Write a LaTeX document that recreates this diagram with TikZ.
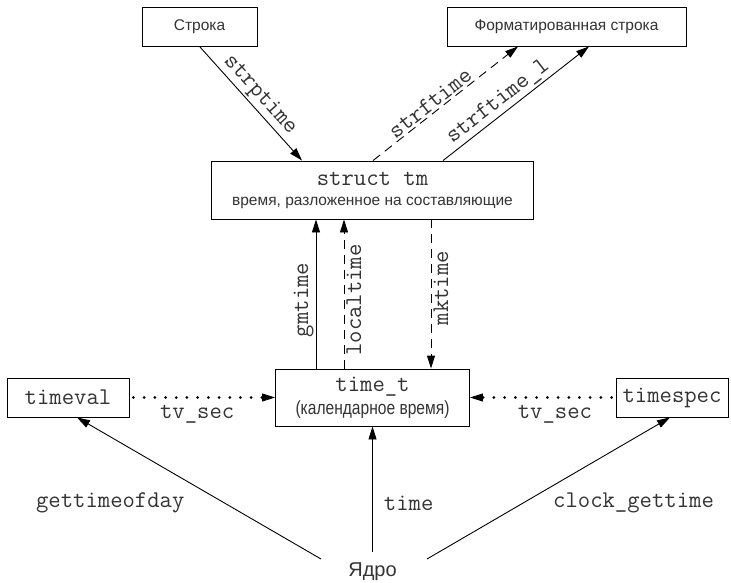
\documentclass[tikz,border=0pt]{standalone}
\usepackage{fontspec}
\setmainfont{Liberation Sans}
\newfontfamily\narrowfam[FakeStretch=0.82]{Liberation Sans}
\usetikzlibrary{arrows.meta}
\definecolor{txt}{HTML}{333333}
\newcommand{\monotext}{\ttfamily\fontsize{24}{24}\selectfont}
\begin{document}
\begin{tikzpicture}[x=1pt,y=-1pt,
  box/.style={draw, line width=0.9pt, inner sep=0pt, text=txt, align=center},
  sansfont/.style={font=\fontsize{15.5}{20}\selectfont},
  lbl/.style={font=\monotext, text=txt, inner sep=2pt},
  conn/.style={line width=0.9pt, -{Triangle[length=13pt,width=8pt]}},
  dashconn/.style={conn, dash pattern=on 9pt off 6pt},
  dotconn/.style={line width=3pt, line cap=round, dash pattern=on 0pt off 10.7pt,
    -{Triangle[length=13pt,width=8pt,line width=0.9pt]}}]
\useasboundingbox (0,0) rectangle (731,583);

% boxes
\node[box, sansfont, minimum width=115pt, minimum height=39pt] (str) at (199.5,26.5) {Строка};
\node[box, sansfont, minimum width=239pt, minimum height=39pt] (fmt) at (566.5,26.5) {Форматированная строка};
\node[box, sansfont, minimum width=322pt, minimum height=58pt] (tm) at (372.5,190)
  {{\monotext struct tm}\\{время, разложенное на составляющие}};
\node[box, font=\fontsize{19}{23}\selectfont, minimum width=194pt, minimum height=57pt] (tt) at (372.5,397.5)
  {{\monotext time\_t}\\{\narrowfam (календарное время)}};
\node[box, lbl, inner sep=0pt, draw, minimum width=122pt, minimum height=39pt] (tv) at (68,397.5) {timeval};
\node[box, lbl, inner sep=0pt, draw, minimum width=112pt, minimum height=39pt] (ts) at (672,397.5) {timespec};
\node[text=txt, font=\fontsize{20}{20}\selectfont, inner sep=0pt] (k) at (372.5,572) {Ядро};

\coordinate (kl) at (321,559);
\coordinate (kc) at (372.5,552);
\coordinate (kr) at (427,559);

% top connectors
\draw[conn] (str.south) -- node[lbl, sloped, above, pos=0.5] {strptime} ([xshift=-70.5pt]tm.north);
\draw[dashconn] ([xshift=0.5pt]tm.north) -- node[lbl, sloped, above, pos=0.435] {strftime} ([xshift=-48.5pt]fmt.south);
\draw[conn] ([xshift=70.5pt]tm.north) -- node[lbl, sloped, above, pos=0.43] {strftime\_l} ([xshift=22.5pt]fmt.south);

% middle connectors
\draw[conn] ([xshift=-56.5pt]tt.north) -- node[lbl, pos=0.46, rotate=90, anchor=south] {gmtime} ([xshift=-56.5pt]tm.south);
\draw[dashconn] ([xshift=-28.5pt]tt.north) -- node[lbl, pos=0.46, rotate=90, anchor=north] {localtime} ([xshift=-28.5pt]tm.south);
\draw[dashconn] ([xshift=58.5pt]tm.south) -- node[lbl, pos=0.46, rotate=90, anchor=north] {mktime} ([xshift=58.5pt]tt.north);

% dotted
\draw[dotconn] ([xshift=4pt]tv.east) -- node[lbl, below=4pt, pos=0.45] {tv\_sec} (tt.west);
\draw[dotconn] ([xshift=-4pt]ts.west) -- node[lbl, below=4pt, pos=0.40] {tv\_sec} (tt.east);

% bottom
\draw[conn] (kl) -- node[lbl, pos=0.394, anchor=east, xshift=-38pt] {gettimeofday} ([xshift=9pt]tv.south);
\draw[conn] (kc) -- node[lbl, pos=0.39, anchor=west, xshift=9pt] {time} (tt.south);
\draw[conn] (kr) -- node[lbl, pos=0.394, anchor=west, xshift=28pt] {clock\_gettime} ([xshift=-2pt]ts.south);
\end{tikzpicture}
\end{document}
